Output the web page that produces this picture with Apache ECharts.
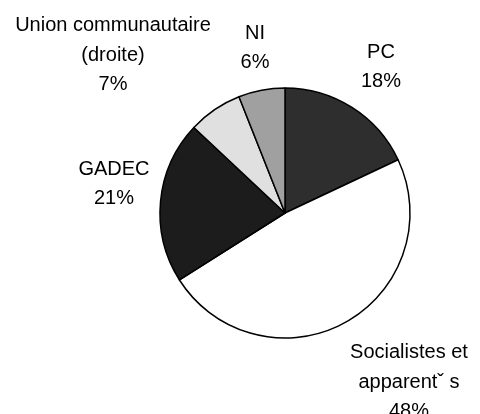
<!DOCTYPE html>
<html><head><meta charset="utf-8">
<script src="https://cdn.jsdelivr.net/npm/echarts@6/dist/echarts.min.js"></script>
<style>html,body{margin:0;padding:0;background:#fff}#c{width:480px;height:414px}</style>
</head><body><div id="c"></div>
<script>
const categories = ['PC', 'Socialistes et\napparentˇ s', 'GADEC', 'Union communautaire\n(droite)', 'NI'];
const values = [18, 48, 21, 7, 6];
const colors = ['#2e2e2e', '#ffffff', '#1c1c1c', '#e0e0e0', '#a0a0a0'];
const labelPos = [[381, 67], [409, 382], [114, 184], [113, 55], [255, 48]];

const chart = echarts.init(document.getElementById('c'));
chart.setOption({
  animation: false,
  series: [{
    type: 'pie',
    center: [285, 213],
    radius: 125,
    startAngle: 90,
    clockwise: true,
    data: categories.map((n, i) => ({name: n, value: values[i], itemStyle: {color: colors[i]}})),
    itemStyle: {borderColor: '#000', borderWidth: 1.5},
    label: {
      show: true,
      position: 'outside',
      formatter: p => p.name + '\n' + p.value + '%',
      fontFamily: 'Liberation Sans, Arial, sans-serif',
      fontSize: 20,
      lineHeight: 29.5,
      color: '#000',
      align: 'center',
      overflow: 'none',
      width: 300
    },
    labelLine: {show: false},
    labelLayout: p => ({x: labelPos[p.dataIndex][0], y: labelPos[p.dataIndex][1], align: 'center', verticalAlign: 'middle'}),
    emphasis: {disabled: true}
  }]
});
</script></body></html>
